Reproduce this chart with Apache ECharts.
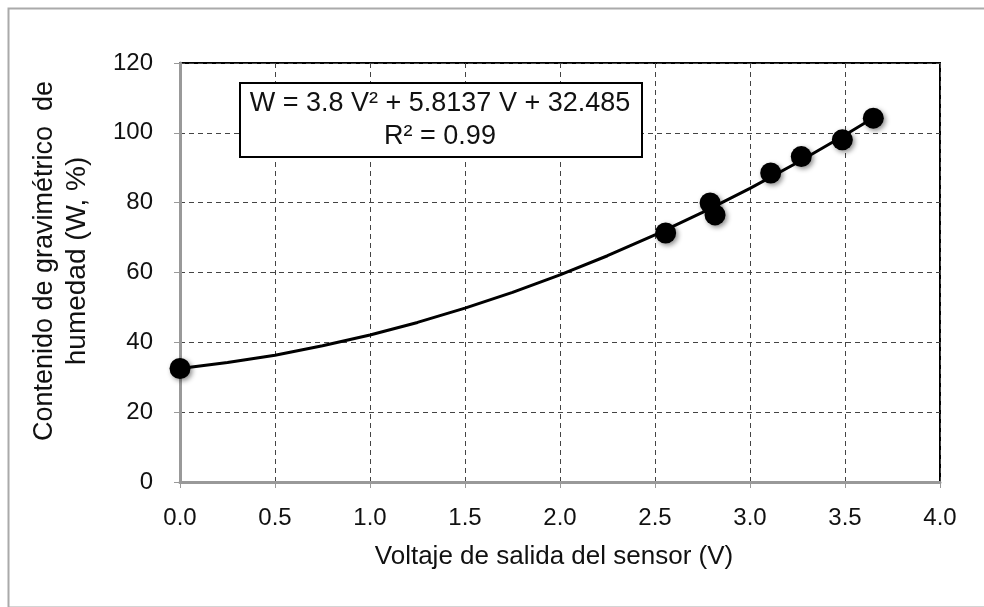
<!DOCTYPE html>
<html>
<head>
<meta charset="utf-8">
<script src="https://cdn.jsdelivr.net/npm/echarts@6/dist/echarts.min.js"></script>
<style>html,body{margin:0;padding:0;background:#fff;}#c{width:984px;height:607px;}</style>
</head>
<body>
<div id="c"></div>
<script>
// Measured points (voltage V, moisture W %)
const voltage = [0.0, 2.556, 2.79, 2.816, 3.109, 3.27, 3.486, 3.649];
const moisture = [32.5, 71.3, 79.9, 76.5, 88.5, 93.2, 98.0, 104.2];
// Trend line
const trendV = [0.0, 0.25, 0.5, 0.75, 1.0, 1.25, 1.5, 1.75, 2.0, 2.25, 2.5, 2.75, 3.0, 3.25, 3.5, 3.65];
const trendW = [32.5, 34.2, 36.3, 39.0, 42.1, 45.7, 49.8, 54.3, 59.3, 64.8, 70.8, 77.2, 84.1, 91.5, 99.4, 104.3];
const equationText = 'W = 3.8 V² + 5.8137 V + 32.485';
const r2Text = 'R² = 0.99';
const xTitle = 'Voltaje de salida del sensor (V)';
const yTitle1 = 'Contenido de gravimétrico  de';
const yTitle2 = 'humedad (W, %)';

const FONT = '"Liberation Sans", Arial, Helvetica, sans-serif';
const chart = echarts.init(document.getElementById('c'), null, {renderer: 'canvas'});
chart.setOption({
  animation: false,
  backgroundColor: '#fff',
  grid: {left: 180, top: 63, width: 760, height: 419, show: true, borderColor: '#000', borderWidth: 2, backgroundColor: 'transparent'},
  xAxis: {
    type: 'value', min: 0, max: 4, interval: 0.5,
    axisLine: {show: true, onZero: false, lineStyle: {color: '#999', width: 3}},
    axisTick: {show: true, inside: false, length: 6, lineStyle: {color: '#999', width: 1}},
    axisLabel: {margin: 24, color: '#111', fontSize: 24, fontFamily: FONT, formatter: v => v.toFixed(1)},
    splitLine: {show: true, lineStyle: {color: '#444', type: [5, 4], width: 1}}
  },
  yAxis: {
    type: 'value', min: 0, max: 120, interval: 20,
    axisLine: {show: true, onZero: false, lineStyle: {color: '#999', width: 3}},
    axisTick: {show: true, inside: false, length: 6, lineStyle: {color: '#999', width: 1}},
    axisLabel: {margin: 27, color: '#111', fontSize: 24, fontFamily: FONT},
    splitLine: {show: true, lineStyle: {color: '#444', type: [5, 4], width: 1}}
  },
  series: [
    {
      type: 'line', data: trendV.map((v, i) => [v, trendW[i]]),
      smooth: false, showSymbol: false, symbol: 'none',
      lineStyle: {color: '#000', width: 3, join: 'round'}, z: 3, silent: true
    },
    {
      type: 'scatter', data: voltage.map((v, i) => [v, moisture[i]]),
      symbol: 'circle', symbolSize: 21,
      itemStyle: {color: '#000', opacity: 1, shadowBlur: 5, shadowColor: 'rgba(0,0,0,0.45)', shadowOffsetX: 2, shadowOffsetY: 2},
      z: 4
    }
  ],
  graphic: [
    {type: 'rect', left: 6, top: 6, shape: {width: 990, height: 599}, style: {fill: 'none', stroke: '#aaa', lineWidth: 2}, z: 0, silent: true},
    {type: 'rect', left: 239, top: 82, shape: {width: 402, height: 74}, style: {fill: '#fff', stroke: '#000', lineWidth: 2}, z: 10},
    {type: 'text', x: 440, y: 104, style: {text: equationText, fontSize: 27, fontFamily: FONT, fill: '#111', textAlign: 'center', textVerticalAlign: 'middle'}, z: 11},
    {type: 'text', x: 440, y: 137, style: {text: r2Text, fontSize: 27, fontFamily: FONT, fill: '#111', textAlign: 'center', textVerticalAlign: 'middle'}, z: 11},
    {type: 'text', x: 554, y: 557, style: {text: xTitle, fontSize: 26, fontFamily: FONT, fill: '#111', textAlign: 'center', textVerticalAlign: 'middle'}, z: 11},
    {type: 'text', x: 45, y: 261, rotation: Math.PI / 2, style: {text: yTitle1, fontSize: 27, fontFamily: FONT, fill: '#111', textAlign: 'center', textVerticalAlign: 'middle'}, z: 11},
    {type: 'text', x: 77, y: 261, rotation: Math.PI / 2, style: {text: yTitle2, fontSize: 28, fontFamily: FONT, fill: '#111', textAlign: 'center', textVerticalAlign: 'middle'}, z: 11}
  ]
});
</script>
</body>
</html>
